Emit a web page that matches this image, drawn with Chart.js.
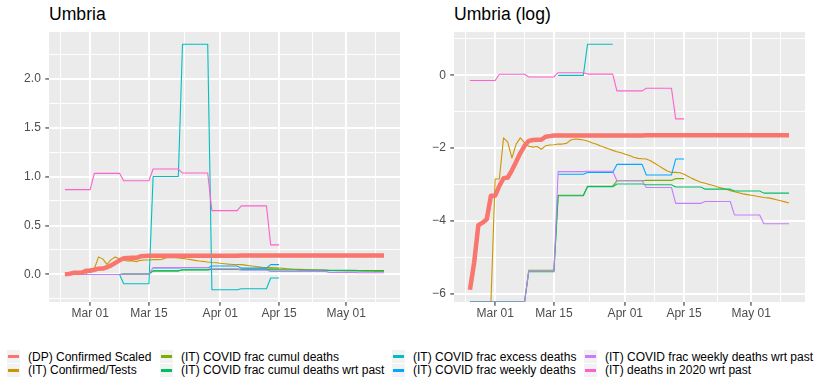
<!DOCTYPE html>
<html>
<head>
<meta charset="utf-8">
<script src="https://cdn.jsdelivr.net/npm/chart.js@4.4.1/dist/chart.umd.min.js"></script>
<style>
  body { margin: 0; background: #fff; width: 814px; height: 380px; overflow: hidden; position: relative;
         font-family: "Liberation Sans", Arial, sans-serif; }
  .panel { position: absolute; top: 0; }
  .title { position: absolute; top: 5.8px; font-size: 17.6px; line-height: 17.6px; color: #000; white-space: nowrap; }
  .lg-key { position: absolute; width: 13.4px; height: 13px; background: #F2F2F2; }
  .lg-key i { position: absolute; left: 1.4px; right: 1.4px; top: 5.2px; height: 2.6px; }
  .lg-text { position: absolute; font-size: 12px; line-height: 14px; color: #000; white-space: nowrap; }
</style>
</head>
<body>
<div class="title" style="left:49px">Umbria</div>
<div class="title" style="left:454px">Umbria (log)</div>
<canvas id="linChart" class="panel" width="407" height="330" style="left:0"></canvas>
<canvas id="logChart" class="panel" width="409" height="330" style="left:405px"></canvas>
<div id="legend"></div>
<script>
// days since 2020-02-24 (Feb 24 .. May 10)
const days = Array.from({ length: 77 }, (_, i) => i);

// x axis: Mar 01, Mar 15, Apr 01, Apr 15, May 01
const tickDays = [6, 20, 37, 51, 67];
const tickLabels = ['Mar 01', 'Mar 15', 'Apr 01', 'Apr 15', 'May 01'];
const minorDays = [-1, 13, 28.5, 44, 59, 74];

const linMajor = [0, 0.5, 1, 1.5, 2];
const linLabels = ['0.0', '0.5', '1.0', '1.5', '2.0'];
const linMinor = [-0.25, 0.25, 0.75, 1.25, 1.75, 2.25];
const logMajor = [-6, -4, -2, 0];
const logLabels = ['\u22126', '\u22124', '\u22122', '0'];
const logMinor = [-5, -3, -1, 1];

const seriesNames = [
  '(DP) Confirmed Scaled',
  '(IT) Confirmed/Tests',
  '(IT) COVID frac cumul deaths',
  '(IT) COVID frac cumul deaths wrt past',
  '(IT) COVID frac excess deaths',
  '(IT) COVID frac weekly deaths',
  '(IT) COVID frac weekly deaths wrt past',
  '(IT) deaths in 2020 wrt past'
];
const seriesColors = ['#F8766D', '#CD9600', '#7CAE00', '#00BE67', '#00BFC4', '#00A9FF', '#C77CFF', '#FF61CC'];

const dpConfirmedScaled = [
  0.00275, 0.0058, 0.0162, 0.0174, 0.0191, 0.0365, 0.0365, 0.0478, 0.059, 0.0602,
  0.0735, 0.0926, 0.118, 0.144, 0.165, 0.169, 0.170, 0.170, 0.185, 0.188,
  0.191, 0.191, 0.191, 0.191, 0.191, 0.191, 0.191, 0.191, 0.191, 0.191,
  0.191, 0.191, 0.191, 0.191, 0.191, 0.191, 0.191, 0.191, 0.191, 0.191,
  0.191, 0.191, 0.193, 0.193, 0.193, 0.193, 0.193, 0.193, 0.193, 0.193,
  0.193, 0.193, 0.193, 0.193, 0.193, 0.193, 0.193, 0.193, 0.193, 0.193,
  0.193, 0.193, 0.193, 0.193, 0.193, 0.193, 0.193, 0.193, 0.193, 0.193,
  0.193, 0.193, 0.193, 0.193, 0.193, 0.193, 0.193
];
const confirmedTests = [
  0, 0, 0, 0, 0, 0, 0.0578, 0.0578, 0.179, 0.159,
  0.103, 0.151, 0.179, 0.157, 0.142, 0.139, 0.141, 0.131, 0.144, 0.147,
  0.148, 0.151, 0.151, 0.154, 0.169, 0.174, 0.172, 0.169, 0.164, 0.157,
  0.151, 0.144, 0.138, 0.133, 0.127, 0.122, 0.119, 0.114, 0.110, 0.105,
  0.102, 0.101, 0.100, 0.0954, 0.0889, 0.0829, 0.0773, 0.0721, 0.0693, 0.0693,
  0.0686, 0.0659, 0.0620, 0.0584, 0.0556, 0.0529, 0.0513, 0.0498, 0.0483, 0.0464,
  0.0450, 0.0437, 0.0420, 0.0408, 0.0396, 0.0384, 0.0376, 0.0369, 0.0362, 0.0354,
  0.0347, 0.0344, 0.0337, 0.0327, 0.0317, 0.0308, 0.0299
];
const cumulDeaths = [
  0, 0, 0, 0, 0, 0, 0, 0, 0, 0, 0, 0, 0, 0,
  0.0047, 0.0047, 0.0047, 0.0047, 0.0047, 0.0047, 0.0047,
  0.0369, 0.0369, 0.0369, 0.0369, 0.0369, 0.0369, 0.0369,
  0.0474, 0.0474, 0.0474, 0.0474, 0.0474, 0.0474, 0.0474,
  0.0550, 0.0550, 0.0550, 0.0550, 0.0550, 0.0550, 0.0550,
  0.0556, 0.0556, 0.0556, 0.0556, 0.0556, 0.0556, 0.0556,
  0.0584, 0.0584, 0.0584,
  null, null, null, null, null, null, null, null, null, null, null, null, null,
  null, null, null, null, null, null, null, null, null, null, null, null
];
const cumulDeathsPast = [
  0, 0, 0, 0, 0, 0, 0, 0, 0, 0, 0, 0, 0, 0,
  0.0045, 0.0045, 0.0045, 0.0045, 0.0045, 0.0045, 0.0045,
  0.0365, 0.0365, 0.0365, 0.0365, 0.0365, 0.0365, 0.0365,
  0.0468, 0.0468, 0.0468, 0.0468, 0.0468, 0.0468, 0.0468,
  0.0503, 0.0503, 0.0503, 0.0503, 0.0503, 0.0503, 0.0503,
  0.0493, 0.0493, 0.0493, 0.0493, 0.0493, 0.0493, 0.0493,
  0.0464, 0.0464, 0.0464, 0.0464, 0.0464, 0.0464, 0.0464,
  0.0437, 0.0437, 0.0437, 0.0437, 0.0437, 0.0437, 0.0437,
  0.0416, 0.0416, 0.0416, 0.0416, 0.0416, 0.0416, 0.0416,
  0.0392, 0.0392, 0.0392, 0.0392, 0.0392, 0.0392, 0.0392
];
const excessDeaths = [
  0, 0, 0, 0, 0, 0, 0, 0, 0, 0, 0, 0, 0, 0,
  -0.095, -0.095, -0.095, -0.095, -0.095, -0.095, -0.095,
  1.0, 1.0, 1.0, 1.0, 1.0, 1.0, 1.0,
  2.35, 2.35, 2.35, 2.35, 2.35, 2.35, 2.35,
  -0.156, -0.156, -0.156, -0.156, -0.156, -0.156, -0.156,
  -0.146, -0.146, -0.146, -0.146, -0.146, -0.146, -0.146,
  -0.037, -0.037, -0.037,
  null, null, null, null, null, null, null, null, null, null, null, null, null,
  null, null, null, null, null, null, null, null, null, null, null, null
];
const weeklyDeaths = [
  null, null, null, null, null, null, null, null, null, null, null,
  null, null, null, null, null, null, null, null, null, null,
  0.0659, 0.0659, 0.0659, 0.0659, 0.0659, 0.0659, 0.0659,
  0.0693, 0.0693, 0.0693, 0.0693, 0.0693, 0.0693, 0.0693,
  0.0863, 0.0863, 0.0863, 0.0863, 0.0863, 0.0863, 0.0863,
  0.0646, 0.0646, 0.0646, 0.0646, 0.0646, 0.0646, 0.0646,
  0.100, 0.100, 0.100,
  null, null, null, null, null, null, null, null, null, null, null, null, null,
  null, null, null, null, null, null, null, null, null, null, null, null
];
const weeklyDeathsPast = [
  0, 0, 0, 0, 0, 0, 0, 0, 0, 0, 0, 0, 0, 0,
  0.0046, 0.0046, 0.0046, 0.0046, 0.0046, 0.0046, 0.0046,
  0.0707, 0.0707, 0.0707, 0.0707, 0.0707, 0.0707, 0.0707,
  0.0714, 0.0714, 0.0714, 0.0714, 0.0714, 0.0714, 0.0714,
  0.0550, 0.0550, 0.0550, 0.0550, 0.0550, 0.0550, 0.0550,
  0.0458, 0.0458, 0.0458, 0.0458, 0.0458, 0.0458, 0.0458,
  0.0296, 0.0296, 0.0296, 0.0296, 0.0296, 0.0296, 0.0296,
  0.0311, 0.0311, 0.0311, 0.0311, 0.0311, 0.0311, 0.0311,
  0.0215, 0.0215, 0.0215, 0.0215, 0.0215, 0.0215, 0.0215,
  0.0169, 0.0169, 0.0169, 0.0169, 0.0169, 0.0169, 0.0169
];
const deaths2020Past = [
  0.866, 0.866, 0.866, 0.866, 0.866, 0.866, 0.866,
  1.032, 1.032, 1.032, 1.032, 1.032, 1.032, 1.032,
  0.957, 0.957, 0.957, 0.957, 0.957, 0.957, 0.957,
  1.076, 1.076, 1.076, 1.076, 1.076, 1.076, 1.076,
  1.035, 1.035, 1.035, 1.035, 1.035, 1.035, 1.035,
  0.652, 0.652, 0.652, 0.652, 0.652, 0.652, 0.652,
  0.700, 0.700, 0.700, 0.700, 0.700, 0.700, 0.700,
  0.302, 0.302, 0.302,
  null, null, null, null, null, null, null, null, null, null, null, null, null,
  null, null, null, null, null, null, null, null, null, null, null, null
];

const seriesValues = [dpConfirmedScaled, confirmedTests, cumulDeaths, cumulDeathsPast,
  excessDeaths, weeklyDeaths, weeklyDeathsPast, deaths2020Past];

Chart.defaults.font.family = "'Liberation Sans', Arial, sans-serif";
Chart.defaults.font.size = 12;
Chart.defaults.color = '#4D4D4D';

// ggplot-like expansion of 5% on each side
function expandRange(values) {
  const f = values.filter(v => v != null && Number.isFinite(v));
  const lo = Math.min(...f), hi = Math.max(...f);
  const pad = (hi - lo) * 0.05;
  return [lo - pad, hi + pad];
}

const xRange = expandRange(days);

// grey panel
const panelBg = {
  id: 'panelBg',
  beforeDraw(chart) {
    const { ctx, chartArea: a } = chart;
    ctx.save();
    ctx.fillStyle = '#EBEBEB';
    ctx.fillRect(a.left, a.top, a.right - a.left, a.bottom - a.top);
    ctx.restore();
  }
};

function buildChart(id, seriesData, yRange, yMajor, yLabels, yMinor, rightPad) {
  const xAll = minorDays.concat(tickDays).sort((a, b) => a - b);
  const yAll = yMinor.concat(yMajor).sort((a, b) => a - b);
  const datasets = seriesData.map((vals, i) => ({
    label: seriesNames[i],
    data: days.map((d, j) => ({ x: d, y: vals[j] })),
    borderColor: seriesColors[i],
    borderWidth: i === 0 ? 4.5 : 1.1,
    pointRadius: 0,
    tension: 0,
    clip: 0,
    spanGaps: false,
    borderJoinStyle: 'round',
    borderCapStyle: 'butt',
    order: i === 0 ? 0 : 9 - i
  }));

  return new Chart(document.getElementById(id), {
    type: 'line',
    data: { datasets },
    plugins: [panelBg],
    options: {
      responsive: false,
      animation: false,
      events: [],
      layout: { padding: { left: 0, right: rightPad, top: 32, bottom: 0 } },
      plugins: { legend: { display: false }, tooltip: { enabled: false } },
      scales: {
        x: {
          type: 'linear',
          min: xRange[0],
          max: xRange[1],
          afterBuildTicks: s => { s.ticks = xAll.map(v => ({ value: v })); },
          afterFit: s => { s.height = 28; },
          border: { display: false },
          grid: {
            color: '#FFFFFF',
            lineWidth: c => tickDays.includes(c.tick.value) ? 1.9 : 0.95,
            drawTicks: true,
            tickLength: 3.7,
            tickWidth: 1.1,
            tickColor: c => tickDays.includes(c.tick.value) ? '#333333' : 'rgba(0,0,0,0)'
          },
          ticks: {
            autoSkip: false,
            maxRotation: 0,
            padding: 1,
            color: '#4D4D4D',
            callback: v => { const k = tickDays.indexOf(v); return k >= 0 ? tickLabels[k] : ''; }
          }
        },
        y: {
          type: 'linear',
          min: yRange[0],
          max: yRange[1],
          afterBuildTicks: s => { s.ticks = yAll.map(v => ({ value: v })); },
          afterFit: s => { s.width = 49; },
          border: { display: false },
          grid: {
            color: '#FFFFFF',
            lineWidth: c => yMajor.includes(c.tick.value) ? 1.9 : 0.95,
            drawTicks: true,
            tickLength: 3.7,
            tickWidth: 1.1,
            tickColor: c => yMajor.includes(c.tick.value) ? '#333333' : 'rgba(0,0,0,0)'
          },
          ticks: {
            autoSkip: false,
            padding: 4.5,
            color: '#4D4D4D',
            callback: v => { const k = yMajor.indexOf(v); return k >= 0 ? yLabels[k] : ''; }
          }
        }
      }
    }
  });
}

// linear panel
const linRange = expandRange([].concat(...seriesValues));
buildChart('linChart', seriesValues, linRange, linMajor, linLabels, linMinor, 7);

// log panel: ln of the same values, zero drawn at the panel edge, negatives dropped
const logged = seriesValues.map(vals => vals.map(v => (v == null || v < 0) ? null : Math.log(v)));
const logRange = expandRange([].concat(...logged));
const logData = logged.map(vals => vals.map(v => v === -Infinity ? logRange[0] : v));
buildChart('logChart', logData, logRange, logMajor, logLabels, logMinor, 9);

// legend (4 columns x 2 rows)
const legendKeyX = [7, 160, 392, 584];
const legendTextX = [28, 181, 413, 605];
const legendRowY = [349.5, 363.3];
const legendEl = document.getElementById('legend');
seriesNames.forEach((name, i) => {
  const col = Math.floor(i / 2), row = i % 2;
  const key = document.createElement('div');
  key.className = 'lg-key';
  key.style.left = legendKeyX[col] + 'px';
  key.style.top = (legendRowY[row] + 0.5) + 'px';
  const line = document.createElement('i');
  line.style.background = seriesColors[i];
  key.appendChild(line);
  const txt = document.createElement('div');
  txt.className = 'lg-text';
  txt.style.left = legendTextX[col] + 'px';
  txt.style.top = legendRowY[row] + 'px';
  txt.textContent = name;
  legendEl.appendChild(key);
  legendEl.appendChild(txt);
});
</script>
</body>
</html>
